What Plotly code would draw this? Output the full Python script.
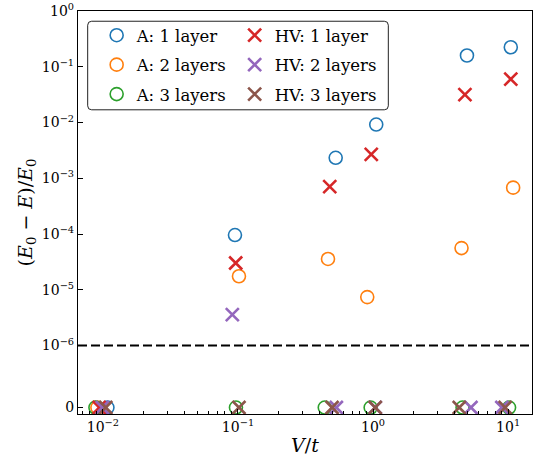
import numpy as np
import plotly.graph_objects as go

# ---- data ----
a1_x = [0.0108, 0.0950, 0.529, 1.056, 4.96, 10.47]
a1_y = [0.0, 9.6e-5, 2.33e-3, 9.2e-3, 0.159, 0.224]
a2_x = [0.0091, 0.1017, 0.464, 0.906, 4.52, 10.9]
a2_y = [0.0, 1.75e-5, 3.58e-5, 7.4e-6, 5.6e-5, 6.8e-4]
a3_x = [0.0088, 0.0966, 0.439, 0.96, 4.60, 10.17]
a3_y = [0.0, 0.0, 0.0, 0.0, 0.0, 0.0]
hv1_x = [0.0094, 0.0962, 0.478, 0.97, 4.79, 10.47]
hv1_y = [0.0, 3.03e-5, 7.08e-4, 2.68e-3, 0.0316, 0.060]
hv2_x = [0.0099, 0.0908, 0.535, 1.038, 5.31, 8.99]
hv2_y = [0.0, 3.58e-6, 0.0, 0.0, 0.0, 0.0]
hv3_x = [0.0105, 0.1017, 0.497, 1.038, 4.35, 9.51]
hv3_y = [0.0, 0.0, 0.0, 0.0, 0.0, 0.0]
threshold = 1e-6

y_tick_values = [0.0, 1e-6, 1e-5, 1e-4, 1e-3, 1e-2, 1e-1, 1e0]
y_tick_labels = ["0", "10<sup>−6</sup>", "10<sup>−5</sup>", "10<sup>−4</sup>",
                 "10<sup>−3</sup>", "10<sup>−2</sup>", "10<sup>−1</sup>", "10<sup>0</sup>"]
x_tick_values = [1e-2, 1e-1, 1e0, 1e1]
x_tick_labels = ["10<sup>−2</sup>", "10<sup>−1</sup>", "10<sup>0</sup>", "10<sup>1</sup>"]

# symlog-like transform (linthresh = 1e-6, linscale = 1, base 10)
LINTHRESH = 1e-6
LIN_DECADES = 1.0 / (1.0 - 0.1)


def symlog(v):
    v = np.asarray(v, dtype=float)
    out = np.empty_like(v)
    big = v >= LINTHRESH
    out[big] = np.log10(v[big])
    out[~big] = np.log10(LINTHRESH) - LIN_DECADES + v[~big] / LINTHRESH * LIN_DECADES
    return out


colors = ["#1f77b4", "#ff7f0e", "#2ca02c", "#d62728", "#9467bd", "#8c564b"]
series = [
    ("A: 1 layer", a1_x, a1_y, "circle-open", "legend"),
    ("A: 2 layers", a2_x, a2_y, "circle-open", "legend"),
    ("A: 3 layers", a3_x, a3_y, "circle-open", "legend"),
    ("HV: 1 layer", hv1_x, hv1_y, "x-thin-open", "legend2"),
    ("HV: 2 layers", hv2_x, hv2_y, "x-thin-open", "legend2"),
    ("HV: 3 layers", hv3_x, hv3_y, "x-thin-open", "legend2"),
]

FONT = "DejaVu Serif"
fig = go.Figure()
for i, (name, xs, ys, sym, leg) in enumerate(series):
    circle = sym.startswith("circle")
    fig.add_trace(go.Scatter(
        x=xs, y=symlog(ys), mode="markers", name=name, legend=leg,
        legendgroup=name,
        marker=dict(symbol=sym, size=13 if circle else 13,
                    color=colors[i],
                    line=dict(color=colors[i], width=1.6 if circle else 2.6)),
    ))

W, H = 534, 463
ML, MR, MT, MB = 78, 1, 9, 49
pw, ph = W - ML - MR, H - MT - MB


def px_x(p):
    return (p - ML) / pw


def px_y(p):
    return (H - MB - p) / ph


minor_x = [k * 10.0 ** n for n in range(-3, 2) for k in range(2, 10)]

fig.update_xaxes(
    type="log", range=[-2.1845, 1.177],
    tickmode="array", tickvals=x_tick_values, ticktext=x_tick_labels,
    ticks="inside", ticklen=5, tickwidth=1, tickcolor="black",
    minor=dict(tickmode="array", tickvals=minor_x, ticks="inside",
               ticklen=2.5, tickwidth=0.8, tickcolor="black", showgrid=False),
    showline=True, linecolor="black", linewidth=1.2, mirror=True,
    showgrid=False, zeroline=False, ticklabeloverflow="allow",
    tickfont=dict(family=FONT, size=14, color="black"),
    title=dict(text="<i>V</i>/<i>t</i>", font=dict(family=FONT, size=19, color="black"),
               standoff=4),
)
fig.update_yaxes(
    range=[-7.227, 0.0],
    tickmode="array", tickvals=list(symlog(y_tick_values)), ticktext=y_tick_labels,
    ticks="inside", ticklen=5, tickwidth=1, tickcolor="black",
    showline=True, linecolor="black", linewidth=1.2, mirror=True,
    showgrid=False, zeroline=False, ticklabeloverflow="allow",
    tickfont=dict(family=FONT, size=14, color="black"),
    title=dict(text="(<i>E</i><sub>0</sub> − <i>E</i>)/<i>E</i><sub>0</sub>",
               font=dict(family=FONT, size=19, color="black"), standoff=4),
)

# dashed threshold line
fig.add_shape(type="line", xref="paper", yref="y", x0=0, x1=1,
              y0=float(symlog([threshold])[0]), y1=float(symlog([threshold])[0]),
              line=dict(color="black", width=2, dash="9px,4px"))

# legend frame (rounded)
x0, x1 = px_x(87.7), px_x(389)
y0, y1 = px_y(108.3), px_y(19.3)
rx, ry = 4 / pw, 4 / ph
path = (f"M {x0+rx},{y1} L {x1-rx},{y1} Q {x1},{y1} {x1},{y1-ry} "
        f"L {x1},{y0+ry} Q {x1},{y0} {x1-rx},{y0} L {x0+rx},{y0} "
        f"Q {x0},{y0} {x0},{y0+ry} L {x0},{y1-ry} Q {x0},{y1} {x0+rx},{y1} Z")
fig.add_shape(type="path", xref="paper", yref="paper", path=path,
              fillcolor="rgba(255,255,255,0.8)", line=dict(color="#222222", width=1),
              layer="above")

leg_common = dict(xanchor="left", yanchor="top", bgcolor="rgba(0,0,0,0)",
                  borderwidth=0, font=dict(family=FONT, size=16.5, color="black"),
                  tracegroupgap=5, orientation="v")
fig.update_layout(
    width=W, height=H,
    margin=dict(l=ML, r=MR, t=MT, b=MB, pad=0),
    paper_bgcolor="white", plot_bgcolor="white",
    showlegend=True,
    legend=dict(x=px_x(96.7), y=px_y(16), **leg_common),
    legend2=dict(x=px_x(235), y=px_y(16), **leg_common),
)

fig.write_html("out.html")
